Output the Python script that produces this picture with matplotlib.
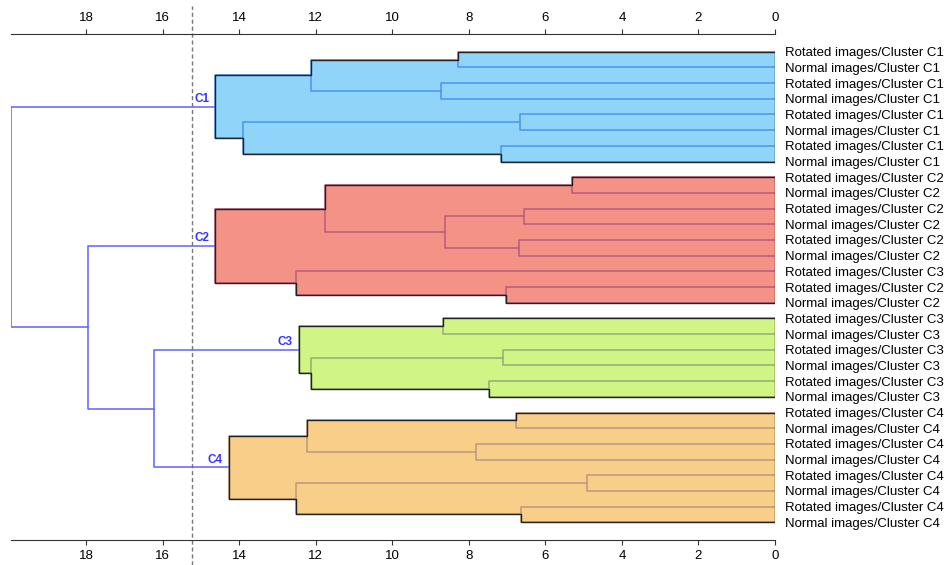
import numpy as np
import matplotlib
matplotlib.use("Agg")
from matplotlib import pyplot as plt

plt.rcParams['font.family'] = ['Liberation Sans', 'DejaVu Sans']

# leaves, top to bottom
leaf_labels = (
    ['Rotated images/Cluster C1', 'Normal images/Cluster C1'] * 4 +
    ['Rotated images/Cluster C2', 'Normal images/Cluster C2'] * 3 +
    ['Rotated images/Cluster C3', 'Rotated images/Cluster C2', 'Normal images/Cluster C2'] +
    ['Rotated images/Cluster C3', 'Normal images/Cluster C3'] * 3 +
    ['Rotated images/Cluster C4', 'Normal images/Cluster C4'] * 4
)
n = len(leaf_labels)

# merges like a linkage matrix: ids < n are leaves, id n+k is merge k
merge_a = [0, 2, 31, 4, 6, 34, 33,
           8, 10, 12, 39, 38, 15, 14, 42,
           17, 19, 21, 47, 46,
           23, 25, 51, 27, 29, 54, 53,
           50, 45, 37]
merge_b = [1, 3, 32, 5, 7, 35, 36,
           9, 11, 13, 40, 41, 16, 43, 44,
           18, 20, 22, 48, 49,
           24, 26, 52, 28, 30, 55, 56,
           57, 58, 59]
merge_h = [8.28, 8.72, 12.12, 6.67, 7.15, 13.90, 14.64,
           5.31, 6.56, 6.68, 8.62, 11.75, 7.02, 12.51, 14.64,
           8.67, 7.10, 7.48, 12.12, 12.45,
           6.77, 7.82, 12.22, 4.91, 6.65, 12.53, 14.28,
           16.24, 17.95, 19.97]

cluster_names = ['C1', 'C2', 'C3', 'C4']
cluster_roots = [37, 45, 50, 57]
fill_colors = ['#90d5f9', '#f39285', '#d0f584', '#f8ce88']
link_colors = ['#4a94f2', '#b95a7f', '#92ad78', '#bd9680']
top_color = '#6060ff'
cut_height = 15.23

# node positions
ypos = list(range(n)) + [0.0] * len(merge_h)
hpos = [0.0] * n + merge_h
for k, (a, b) in enumerate(zip(merge_a, merge_b)):
    ypos[n + k] = (ypos[a] + ypos[b]) / 2


def members(node):
    if node < n:
        return []
    k = node - n
    return [k] + members(merge_a[k]) + members(merge_b[k])


fig = plt.figure(figsize=(9.46, 5.65), dpi=100)
ax = fig.add_axes([0.0116, 0.0442, 0.8076, 0.8956])

merge_color = [top_color] * len(merge_h)
for ci, root in enumerate(cluster_roots):
    ks = members(root)
    for k in ks:
        merge_color[k] = link_colors[ci]

    # envelope of the cluster: union of [0, h] x [ya, yb] boxes
    boxes = [(merge_h[k], min(ypos[merge_a[k]], ypos[merge_b[k]]),
              max(ypos[merge_a[k]], ypos[merge_b[k]])) for k in ks]
    ys = sorted(set([b[1] for b in boxes] + [b[2] for b in boxes]))
    px, py = [0], [ys[0]]
    for y0, y1 in zip(ys[:-1], ys[1:]):
        mid = (y0 + y1) / 2
        w = max(h for h, lo, hi in boxes if lo <= mid <= hi)
        px += [w, w]
        py += [y0, y1]
    px.append(0)
    py.append(ys[-1])
    ax.fill(px, py, color=fill_colors[ci], lw=0, zorder=1)
    ax.plot(px + [px[0]], py + [py[0]], color='#222222', lw=1.0, zorder=3)

    ax.text(hpos[root] + 0.15, ypos[root] - 0.1, cluster_names[ci], color='#3535ff',
            fontsize=8.5, fontweight='bold', ha='right', va='bottom', zorder=4)

for k, (a, b) in enumerate(zip(merge_a, merge_b)):
    ax.plot([hpos[a], merge_h[k], merge_h[k], hpos[b]],
            [ypos[a], ypos[a], ypos[b], ypos[b]],
            color=merge_color[k], lw=1.1, zorder=2)

ax.axvline(cut_height, ymin=-0.05, ymax=1.055, color='#777777', lw=1.0,
           ls=(0, (3, 2)), clip_on=False, zorder=0)

ax.set_xlim(max(merge_h), 0)
ax.set_ylim(n - 1 + 1.13, -1.13)
ax.set_xticks(np.arange(0, 19, 2))
ax.tick_params(axis='x', top=True, labeltop=True, bottom=True, labelbottom=True,
               length=3.5, width=0.8, color='#333333', labelsize=9.5, pad=4)

ax.set_yticks(range(n))
ax.set_yticklabels(leaf_labels)
ax.yaxis.tick_right()
ax.tick_params(axis='y', length=0, pad=7, labelsize=9.5)

for side in ['left', 'right']:
    ax.spines[side].set_visible(False)
for side in ['top', 'bottom']:
    ax.spines[side].set_color('#333333')
    ax.spines[side].set_linewidth(0.8)

fig.savefig('out.png', dpi=100)
